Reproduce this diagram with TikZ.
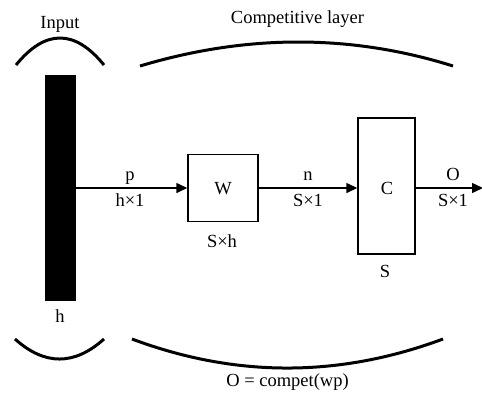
\documentclass[tikz,border=0pt]{standalone}
\usepackage{fontspec}
\setmainfont{Liberation Serif}
\usetikzlibrary{arrows.meta}
\begin{document}
\begin{tikzpicture}[x=1pt,y=-1pt,
  lbl/.style={font=\fontsize{18.5}{20}\selectfont,anchor=base,inner sep=0pt},
  boxnode/.style={draw,line width=1.4pt,minimum width=#1,inner sep=0pt},
  brace/.style={line width=3pt},
  conn/.style={line width=1.4pt,-{Triangle[length=11pt,width=10pt]}}]
\useasboundingbox (0,0) rectangle (482,392);
% input bar
\node[fill=black,minimum width=31pt,minimum height=226pt,inner sep=0pt] (bar) at (60.5,188) {};
\node[boxnode=70pt,minimum height=67pt] (W) at (223,188) {};
\node[boxnode=57pt,minimum height=136pt] (C) at (386.5,186) {};
\coordinate (out) at (483,188);
% connectors
\draw[conn] (bar.east |- W.west) -- (W.west);
\draw[conn] (W.east) -- (W.east -| C.west);
\draw[conn] (C.east |- W.east) -- (out);
% labels
\node[lbl] (tin) at (60,28) {Input};
\node[lbl] (tcomp) at (297.5,23) {Competitive layer};
\node[lbl] (tW) at (223,194.5) {W};
\node[lbl] (tC) at (387,194.5) {C};
\node[lbl] (tp) at (130,180) {p};
\node[lbl] (tp2) at (130,206) {h×1};
\node[lbl] (tn) at (308,180) {n};
\node[lbl] (tn2) at (308,206) {S×1};
\node[lbl] (to) at (453,180) {O};
\node[lbl] (to2) at (453,206) {S×1};
\node[lbl] (tsh) at (222,247) {S×h};
\node[lbl] (ts) at (385,277) {S};
\node[lbl] (th) at (60,322) {h};
\node[lbl] (teq) at (287.5,386) {O = compet(wp)};
% braces
\draw[brace] (16,65) .. controls (45.3,29) and (74.7,29) .. (104,65);
\draw[brace] (140,66) .. controls (246.7,34) and (351,34) .. (453,66);
\draw[brace] (15,339) .. controls (44.7,365.7) and (74.3,365.7) .. (104,339);
\draw[brace] (132,339) .. controls (235.3,377.7) and (339,377.7) .. (443,339);
\end{tikzpicture}
\end{document}
